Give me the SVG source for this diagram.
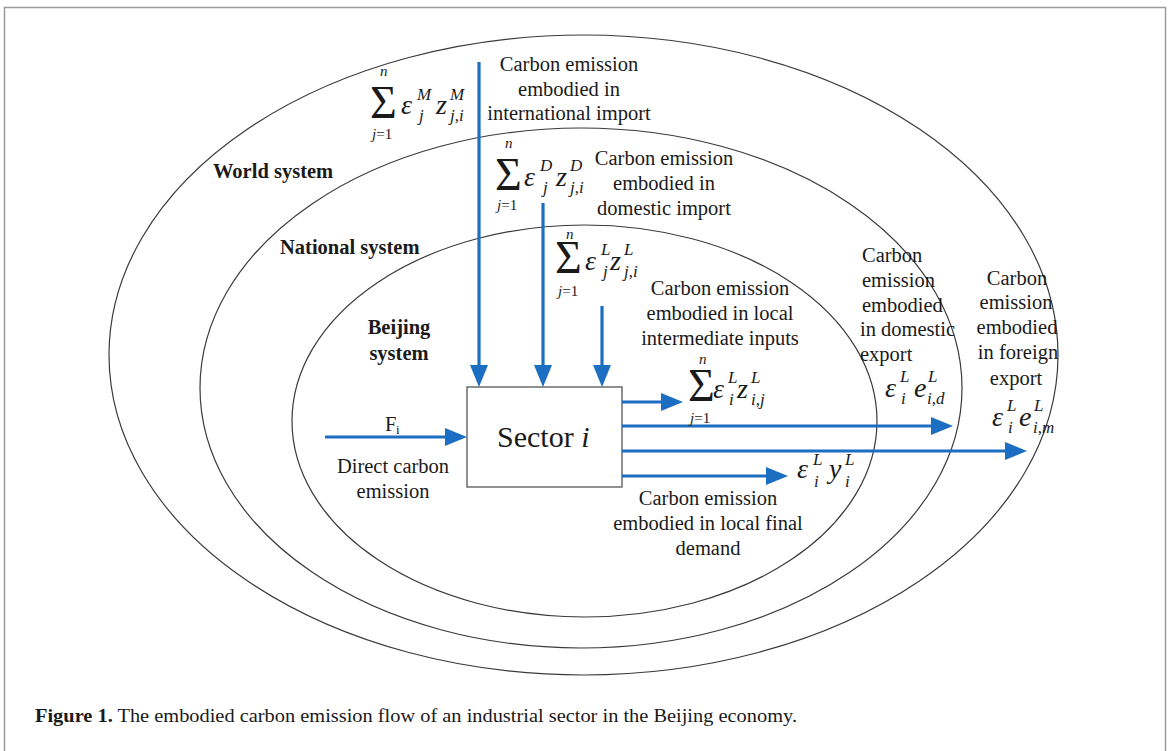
<svg xmlns="http://www.w3.org/2000/svg" width="1171" height="751" viewBox="0 0 1171 751">
<defs>
<style>
.t{font-family:"Liberation Serif","Times New Roman",serif;font-size:20.5px;fill:#1a1a1a}
.b{font-weight:bold}
.m{text-anchor:middle}
.it{font-style:italic}
.ms{font-family:"Liberation Serif","Times New Roman",serif;font-style:italic;font-size:28px;fill:#1a1a1a}
.sp{font-family:"Liberation Serif","Times New Roman",serif;font-style:italic;font-size:17px;fill:#1a1a1a}
.sg{font-family:"Liberation Serif","Times New Roman",serif;font-size:46px;fill:#1a1a1a}
.lim{font-family:"Liberation Serif","Times New Roman",serif;font-size:15px;fill:#1a1a1a}
.ell{fill:none;stroke:#3a3a3a;stroke-width:1.2}
.arr{stroke:#1b6ec2;stroke-width:3.2;fill:none;marker-end:url(#ah)}
</style>
<marker id="ah" markerUnits="userSpaceOnUse" markerWidth="22" markerHeight="18" refX="12" refY="9" orient="auto">
<path d="M0,0 L22,9 L0,18 Z" fill="#1b6ec2"/>
</marker>
</defs>
<rect x="4.5" y="7.5" width="1161" height="760" fill="#fff" stroke="#9a9a9a" stroke-width="1.5"/>

<g id="world-system">
<ellipse class="ell" cx="583.5" cy="355" rx="474.5" ry="320"/>
<text class="t b" x="213" y="178">World system</text>
</g>
<g id="national-system">
<ellipse class="ell" cx="581" cy="388" rx="381" ry="260"/>
<text class="t b" x="280" y="254">National system</text>
</g>
<g id="beijing-system">
<ellipse class="ell" cx="584.5" cy="421" rx="292.5" ry="196"/>
<text class="t b m" x="399" y="334">Beijing</text>
<text class="t b m" x="399" y="360">system</text>
</g>

<g id="sector">
<rect x="467" y="387" width="155" height="100" fill="#fff" stroke="#555" stroke-width="1.3"/>
<text x="497" y="447" font-family="Liberation Serif, Times New Roman, serif" font-size="30" fill="#1a1a1a">Sector <tspan font-style="italic">i</tspan></text>
</g>

<g id="connectors">
<line class="arr" x1="325" y1="437" x2="457" y2="437"/>
<line class="arr" x1="479" y1="62" x2="479" y2="377"/>
<line class="arr" x1="543" y1="203" x2="543" y2="377"/>
<line class="arr" x1="602" y1="306" x2="602" y2="377"/>
<line class="arr" x1="622" y1="402" x2="673" y2="402"/>
<line class="arr" x1="622" y1="426" x2="943" y2="426"/>
<line class="arr" x1="622" y1="451" x2="1017" y2="451"/>
<line class="arr" x1="622" y1="476" x2="778" y2="476"/>
</g>

<g id="direct-emission">
<text class="t" x="385" y="431">F</text>
<text class="t" x="396" y="434" style="font-size:13px">i</text>
<text class="t m" x="393" y="473">Direct carbon</text>
<text class="t m" x="393" y="498">emission</text>
</g>

<g id="international-import">
<text class="t m" x="569" y="71">Carbon emission</text>
<text class="t m" x="569" y="96">embodied in</text>
<text class="t m" x="569" y="120">international import</text>
<text class="sg" x="370" y="118">Σ</text>
<text class="lim it" x="380" y="76">n</text>
<text class="lim" x="372" y="139"><tspan class="it">j</tspan>=1</text>
<text class="ms" x="401" y="114">ε</text>
<text class="sp" x="417" y="100">M</text>
<text class="sp" x="419" y="121">j</text>
<text class="ms" x="436" y="114">z</text>
<text class="sp" x="450" y="100">M</text>
<text class="sp" x="450" y="121">j<tspan font-style="normal">,</tspan>i</text>
</g>

<g id="domestic-import">
<text class="t m" x="664" y="165">Carbon emission</text>
<text class="t m" x="664" y="190">embodied in</text>
<text class="t m" x="664" y="215">domestic import</text>
<text class="sg" x="495" y="190">Σ</text>
<text class="lim it" x="505" y="148">n</text>
<text class="lim" x="497" y="210"><tspan class="it">j</tspan>=1</text>
<text class="ms" x="524" y="186">ε</text>
<text class="sp" x="540" y="171">D</text>
<text class="sp" x="543" y="193">j</text>
<text class="ms" x="556" y="186">z</text>
<text class="sp" x="570" y="171">D</text>
<text class="sp" x="570" y="193">j<tspan font-style="normal">,</tspan>i</text>
</g>

<g id="local-intermediate">
<text class="t m" x="720" y="295">Carbon emission</text>
<text class="t m" x="720" y="320">embodied in local</text>
<text class="t m" x="720" y="345">intermediate inputs</text>
<text class="sg" x="555" y="273">Σ</text>
<text class="lim it" x="566" y="239">n</text>
<text class="lim" x="558" y="296"><tspan class="it">j</tspan>=1</text>
<text class="ms" x="585" y="270">ε</text>
<text class="sp" x="601" y="255">L</text>
<text class="sp" x="603" y="277">j</text>
<text class="ms" x="610" y="270">z</text>
<text class="sp" x="624" y="255">L</text>
<text class="sp" x="624" y="277">j<tspan font-style="normal">,</tspan>i</text>
</g>

<g id="local-output">
<text class="sg" x="688" y="401">Σ</text>
<text class="lim it" x="699" y="364">n</text>
<text class="lim" x="690" y="423"><tspan class="it">j</tspan>=1</text>
<text class="ms" x="713" y="398">ε</text>
<text class="sp" x="728" y="383">L</text>
<text class="sp" x="729" y="405">i</text>
<text class="ms" x="737" y="398">z</text>
<text class="sp" x="751" y="383">L</text>
<text class="sp" x="751" y="405">i<tspan font-style="normal">,</tspan>j</text>
</g>

<g id="domestic-export">
<text class="t" x="862" y="262">Carbon</text>
<text class="t" x="862" y="287">emission</text>
<text class="t" x="862" y="312">embodied</text>
<text class="t" x="860" y="336">in domestic</text>
<text class="t" x="860" y="361">export</text>
<text class="ms" x="885" y="397">ε</text>
<text class="sp" x="900" y="382">L</text>
<text class="sp" x="901" y="404">i</text>
<text class="ms" x="914" y="397">e</text>
<text class="sp" x="928" y="382">L</text>
<text class="sp" x="927" y="404">i<tspan font-style="normal">,</tspan>d</text>
</g>

<g id="foreign-export">
<text class="t m" x="1017" y="285">Carbon</text>
<text class="t m" x="1016" y="309">emission</text>
<text class="t m" x="1017" y="334">embodied</text>
<text class="t m" x="1018" y="359">in foreign</text>
<text class="t m" x="1016" y="385">export</text>
<text class="ms" x="992" y="426">ε</text>
<text class="sp" x="1007" y="411">L</text>
<text class="sp" x="1008" y="433">i</text>
<text class="ms" x="1019" y="426">e</text>
<text class="sp" x="1034" y="411">L</text>
<text class="sp" x="1033" y="433">i<tspan font-style="normal">,</tspan>m</text>
</g>

<g id="local-final-demand">
<text class="ms" x="797" y="478">ε</text>
<text class="sp" x="813" y="465">L</text>
<text class="sp" x="814" y="487">i</text>
<text class="ms" x="829" y="478">y</text>
<text class="sp" x="845" y="465">L</text>
<text class="sp" x="845" y="487">i</text>
<text class="t m" x="708" y="505">Carbon emission</text>
<text class="t m" x="708" y="530">embodied in local final</text>
<text class="t m" x="708" y="555">demand</text>
</g>

<text class="t" x="35" y="722" style="font-size:19px" textLength="762" lengthAdjust="spacingAndGlyphs"><tspan class="b">Figure 1.</tspan> The embodied carbon emission flow of an industrial sector in the Beijing economy.</text>
</svg>
